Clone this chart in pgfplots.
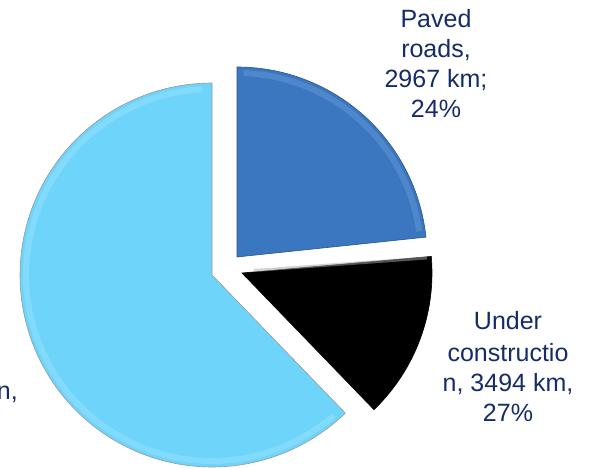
\documentclass[border=0pt]{standalone}
\usepackage{pgfplots}
\pgfplotsset{compat=1.18}
\usepackage{pgfplotstable}
\usepackage{fontspec}
\setmainfont{Liberation Sans}
\definecolor{paved}{RGB}{59,119,192}
\definecolor{pavedrim}{RGB}{110,160,220}
\definecolor{other}{RGB}{110,212,250}
\definecolor{otherrim}{RGB}{160,230,255}
\definecolor{navy}{RGB}{22,44,104}
% slice geometry in picture units: centre x, centre y, radius, start angle, end angle
\pgfplotstableread{
name cx cy r a b
paved 237 212 190 6 90
under 242 196 190 -46 5
other 212 194 192 90 314
}\slices
\begin{document}
\begin{tikzpicture}
\useasboundingbox (0,0) rectangle (591bp,469bp);
\begin{axis}[
  at={(0,0)}, anchor=south west,
  scale only axis, width=591bp, height=469bp,
  xmin=0, xmax=591, ymin=0, ymax=469,
  hide axis, clip=true,
]
% light blue slice (other)
\pgfplotstablegetelem{2}{cx}\of\slices \let\cxa\pgfplotsretval
\pgfplotstablegetelem{2}{cy}\of\slices \let\cya\pgfplotsretval
\pgfplotstablegetelem{2}{r}\of\slices \let\ra\pgfplotsretval
\pgfplotstablegetelem{2}{a}\of\slices \let\aa\pgfplotsretval
\pgfplotstablegetelem{2}{b}\of\slices \let\ba\pgfplotsretval
\addplot[fill=other, draw=gray!80, line width=0.6pt, domain=\aa:\ba, samples=120, variable=\t]
  ({\cxa+\ra*cos(\t)},{\cya+\ra*sin(\t)}) -- (axis cs:\cxa,\cya) -- cycle;
\addplot[draw=otherrim, opacity=0.4, line width=6pt, domain=\aa+3:\ba-3, samples=120, variable=\t]
  ({\cxa+(\ra-6)*cos(\t)},{\cya+(\ra-6)*sin(\t)});
% dark blue slice (paved)
\pgfplotstablegetelem{0}{cx}\of\slices \let\cxb\pgfplotsretval
\pgfplotstablegetelem{0}{cy}\of\slices \let\cyb\pgfplotsretval
\pgfplotstablegetelem{0}{r}\of\slices \let\rb\pgfplotsretval
\pgfplotstablegetelem{0}{a}\of\slices \let\ab\pgfplotsretval
\pgfplotstablegetelem{0}{b}\of\slices \let\bb\pgfplotsretval
\addplot[fill=paved, draw=paved!70!black, line width=0.6pt, domain=\ab:\bb, samples=80, variable=\t]
  ({\cxb+\rb*cos(\t)},{\cyb+\rb*sin(\t)}) -- (axis cs:\cxb,\cyb) -- cycle;
\addplot[draw=pavedrim, opacity=0.4, line width=6pt, domain=\ab+2:\bb-2, samples=80, variable=\t]
  ({\cxb+(\rb-6)*cos(\t)},{\cyb+(\rb-6)*sin(\t)});
% black slice (under construction)
\pgfplotstablegetelem{1}{cx}\of\slices \let\cxc\pgfplotsretval
\pgfplotstablegetelem{1}{cy}\of\slices \let\cyc\pgfplotsretval
\pgfplotstablegetelem{1}{r}\of\slices \let\rc\pgfplotsretval
\pgfplotstablegetelem{1}{a}\of\slices \let\ac\pgfplotsretval
\pgfplotstablegetelem{1}{b}\of\slices \let\bc\pgfplotsretval
\addplot[fill=black, draw=black, line width=0.6pt, domain=\ac:\bc, samples=60, variable=\t]
  ({\cxc+\rc*cos(\t)},{\cyc+\rc*sin(\t)}) -- (axis cs:\cxc,\cyc) -- cycle;
\addplot[draw=gray!70, opacity=0.5, line width=3pt]
  coordinates {(\cxc+12,\cyc+2.5) (\cxc+185,\cyc+15)};
% labels
\begin{scope}[every node/.style={text=navy, font=\fontsize{25bp}{30bp}\selectfont, inner sep=0pt}]
\node[anchor=base] at (axis cs:436,441) {Paved};
\node[anchor=base] at (axis cs:436,411) {roads,};
\node[anchor=base] at (axis cs:436,381) {2967 km;};
\node[anchor=base] at (axis cs:436,351) {24\%};
\node[anchor=base] at (axis cs:508,139) {Under};
\node[anchor=base] at (axis cs:508,107) {constructio};
\node[anchor=base] at (axis cs:508,77) {n, 3494 km,};
\node[anchor=base] at (axis cs:508,47) {27\%};
\node[anchor=base east] at (axis cs:18,69) {n,};
\end{scope}
\end{axis}
\end{tikzpicture}
\end{document}
